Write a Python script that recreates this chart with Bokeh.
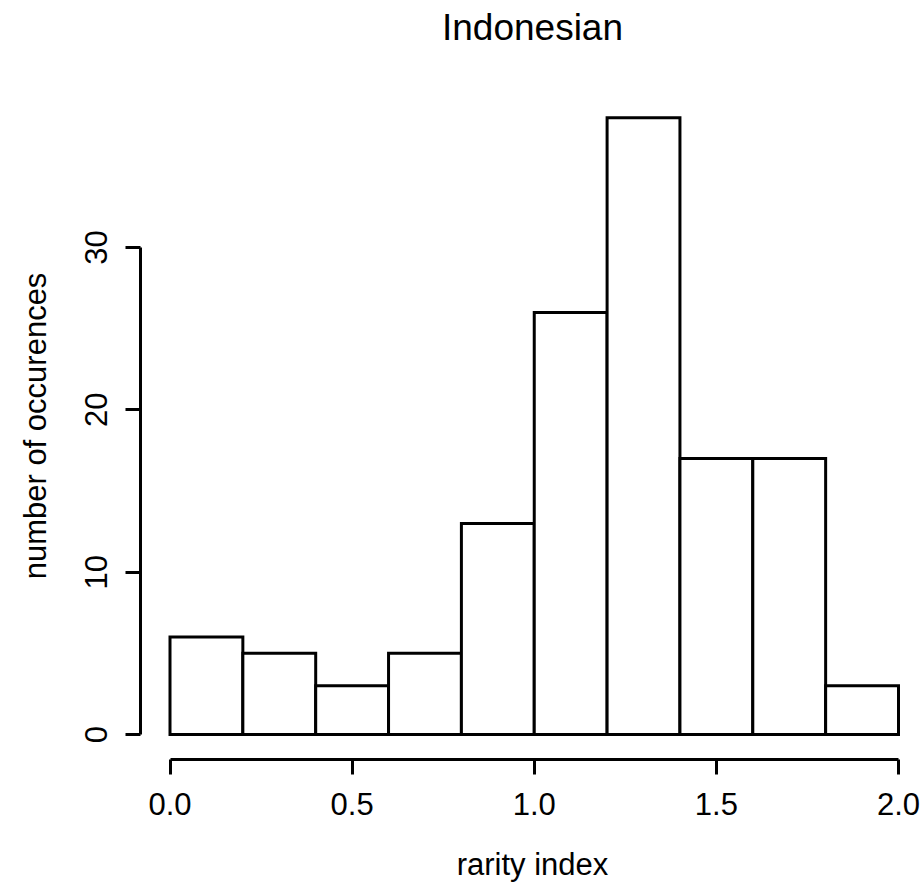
from bokeh.plotting import figure
from bokeh.models import FixedTicker, Range1d, Title
from bokeh.embed import file_html
from bokeh.resources import INLINE

# Data
bin_edges = [0.0, 0.2, 0.4, 0.6, 0.8, 1.0, 1.2, 1.4, 1.6, 1.8, 2.0]
counts = [6, 5, 3, 5, 13, 26, 38, 17, 17, 3]
x_ticks = [0.0, 0.5, 1.0, 1.5, 2.0]
x_tick_labels = ["0.0", "0.5", "1.0", "1.5", "2.0"]
y_ticks = [0, 10, 20, 30]
title_text = "Indonesian"
x_label = "rarity index"
y_label = "number of occurences"

FONT = "Liberation Sans"

p = figure(width=924, height=894, output_backend="svg", toolbar_location=None,
           x_range=Range1d(-0.081, 2.0714), y_range=Range1d(-1.54, 39.55),
           min_border_left=140, min_border_right=0, min_border_top=92,
           min_border_bottom=135)
p.title = None

# spacer between frame and title, then the title itself
spacer = Title(text=" ", text_font_size="1px", standoff=40, align="center")
p.add_layout(spacer, "above")
main_title = Title(text=title_text, text_font=FONT, text_font_size="37px",
                   text_font_style="normal", text_color="black", align="center",
                   vertical_align="bottom", standoff=4)
p.add_layout(main_title, "above")

p.quad(left=bin_edges[:-1], right=bin_edges[1:], bottom=[0] * len(counts), top=counts,
       fill_color="white", line_color="black", line_width=3, line_join="miter")

p.outline_line_color = None
p.xgrid.grid_line_color = None
p.ygrid.grid_line_color = None

for ax in (p.xaxis[0], p.yaxis[0]):
    ax.axis_line_width = 3
    ax.major_tick_line_width = 3
    ax.major_tick_out = 15
    ax.major_tick_in = 0
    ax.minor_tick_line_color = None
    ax.major_label_text_font = FONT
    ax.major_label_text_font_size = "31px"
    ax.axis_label_text_font = FONT
    ax.axis_label_text_font_size = "31px"
    ax.axis_label_text_font_style = "normal"
    ax.major_label_text_color = "black"
    ax.axis_label_text_color = "black"

xa = p.xaxis[0]
xa.bounds = (0, 2)
xa.ticker = FixedTicker(ticks=x_ticks)
xa.major_label_overrides = {t: l for t, l in zip(x_ticks, x_tick_labels)}
xa.major_label_standoff = 18
xa.axis_label = x_label
xa.axis_label_standoff = 29

ya = p.yaxis[0]
ya.bounds = (0, 30)
ya.ticker = FixedTicker(ticks=y_ticks)
ya.major_label_orientation = "vertical"
ya.major_label_standoff = 18
ya.axis_label = y_label
ya.axis_label_standoff = 30

open("out.html", "w").write(file_html(p, INLINE))
